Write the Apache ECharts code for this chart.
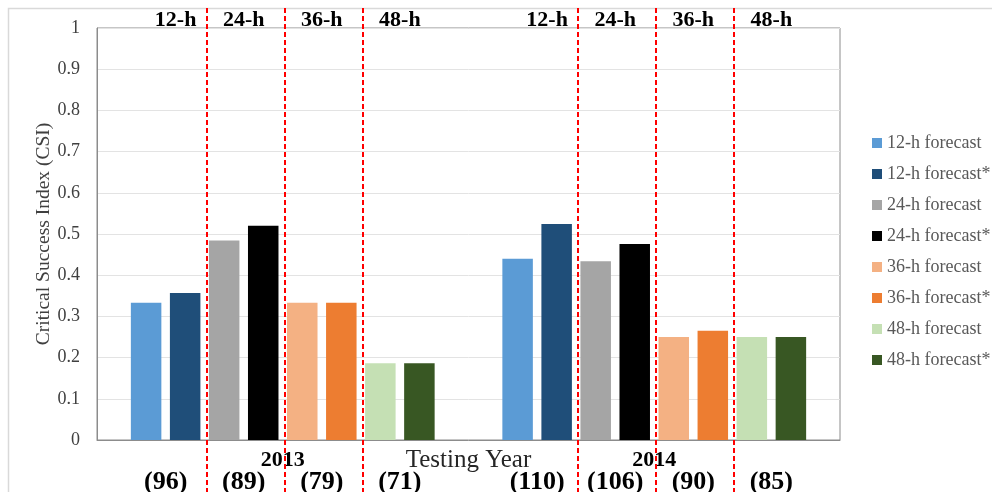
<!DOCTYPE html>
<html>
<head>
<meta charset="utf-8">
<script src="https://cdn.jsdelivr.net/npm/echarts@6/dist/echarts.min.js"></script>
<style>
  html, body { margin: 0; padding: 0; background: #ffffff; }
  #chart { width: 992px; height: 492px; }
</style>
</head>
<body>
<div id="chart"></div>
<script>
// Testing years on the category axis
const years = ['2013', '2014'];

// CSI per forecast horizon, one value per testing year
const csi12h     = [0.333, 0.440];
const csi12hStar = [0.357, 0.524];
const csi24h     = [0.484, 0.434];
const csi24hStar = [0.520, 0.476];
const csi36h     = [0.333, 0.250];
const csi36hStar = [0.333, 0.265];
const csi48h     = [0.186, 0.250];
const csi48hStar = [0.186, 0.250];

const seriesNames = [
  '12-h forecast', '12-h forecast*',
  '24-h forecast', '24-h forecast*',
  '36-h forecast', '36-h forecast*',
  '48-h forecast', '48-h forecast*'
];
const seriesValues = [csi12h, csi12hStar, csi24h, csi24hStar, csi36h, csi36hStar, csi48h, csi48hStar];

// Horizon headings and number of cases per horizon
const horizonLabels = ['12-h', '24-h', '36-h', '48-h'];
const caseCounts2013 = ['(96)', '(89)', '(79)', '(71)'];
const caseCounts2014 = ['(110)', '(106)', '(90)', '(85)'];
const caseCounts = [caseCounts2013, caseCounts2014];

// Y-axis tick labels
const yTicks = ['0', '0.1', '0.2', '0.3', '0.4', '0.5', '0.6', '0.7', '0.8', '0.9', '1'];

const palette = ['#5b9bd5', '#1f4e79', '#a5a5a5', '#000000', '#f4b183', '#ed7d31', '#c5e0b4', '#385723'];
const SERIF = '"Liberation Serif", "Times New Roman", serif';

const chart = echarts.init(document.getElementById('chart'), null, { renderer: 'canvas' });

const option = {
  backgroundColor: '#ffffff',
  animation: false,
  color: palette,
  grid: {
    left: 97, top: 28, right: 152, bottom: 52,
    containLabel: false,
    outerBoundsMode: 'none',
    show: true, borderColor: '#8c8c8c', borderWidth: 1, backgroundColor: 'transparent'
  },
  legend: {
    orient: 'vertical',
    left: 867, top: 129,
    itemWidth: 10, itemHeight: 10, itemGap: 13,
    icon: 'rect',
    data: seriesNames,
    textStyle: { fontFamily: SERIF, fontSize: 18, color: '#595959', lineHeight: 18 }
  },
  xAxis: {
    type: 'category',
    data: years,
    name: 'Testing Year',
    nameLocation: 'middle',
    nameGap: 8,
    nameMoveOverlap: false,
    nameTextStyle: { fontFamily: SERIF, fontSize: 25, color: '#262626' },
    axisLine: { show: true, lineStyle: { color: '#8c8c8c', width: 1 } },
    axisTick: { show: false },
    axisLabel: { margin: 9, fontFamily: SERIF, fontSize: 22, fontWeight: 'bold', color: '#000000' }
  },
  yAxis: {
    type: 'value',
    min: 0, max: 1, interval: 0.1,
    name: 'Critical Success Index (CSI)',
    nameLocation: 'middle',
    nameGap: 43,
    nameMoveOverlap: false,
    nameTextStyle: { fontFamily: SERIF, fontSize: 19.5, color: '#404040' },
    axisLine: { show: true, lineStyle: { color: '#8c8c8c', width: 1 } },
    axisTick: { show: false },
    axisLabel: {
      margin: 17, fontFamily: SERIF, fontSize: 18, color: '#404040',
      formatter: function (v) { return yTicks[Math.round(v * 10)]; }
    },
    splitLine: { show: true, lineStyle: { color: '#e3e3e3', width: 1 } }
  },
  series: seriesNames.map(function (name, i) {
    return {
      name: name,
      type: 'bar',
      data: seriesValues[i],
      barWidth: 30.5,
      barGap: '28%',
      itemStyle: { color: palette[i] }
    };
  })
};

chart.setOption(option);

// Annotations placed from the laid-out bars: horizon headings, case counts, dashed separators
function barLayout(seriesIndex, dataIndex) {
  return chart.getModel().getSeriesByIndex(seriesIndex).getData().getItemLayout(dataIndex);
}

const headingShift = [10, 0, 0, 0];
const graphics = [{
  type: 'rect',
  silent: true,
  z: -10,
  shape: { x: 8.5, y: 8.5, width: 1000, height: 500 },
  style: { fill: 'none', stroke: '#d9d9d9', lineWidth: 1.5 }
}];

for (let j = 0; j < years.length; j++) {
  for (let p = 0; p < horizonLabels.length; p++) {
    const a = barLayout(2 * p, j);
    const b = barLayout(2 * p + 1, j);
    const cx = (a.x + b.x + b.width) / 2;
    graphics.push({
      type: 'text', silent: true, z: 20,
      x: cx + headingShift[p], y: 20,
      style: {
        text: horizonLabels[p], fontFamily: SERIF, fontSize: 22, fontWeight: 'bold',
        fill: '#000000', align: 'center', verticalAlign: 'middle'
      }
    });
    graphics.push({
      type: 'text', silent: true, z: 20,
      x: cx, y: 482,
      style: {
        text: caseCounts[j][p], fontFamily: SERIF, fontSize: 26, fontWeight: 'bold',
        fill: '#000000', align: 'center', verticalAlign: 'middle'
      }
    });
    if (p < horizonLabels.length - 1) {
      const c = barLayout(2 * p + 2, j);
      const sx = Math.round((b.x + b.width + c.x) / 2 + 2);
      graphics.push({
        type: 'line', silent: true, z: 30,
        shape: { x1: sx, y1: 8, x2: sx, y2: 492 },
        style: { stroke: '#ff0000', lineWidth: 2, lineDash: [5, 3] }
      });
    }
  }
}

chart.setOption({ graphic: graphics });
</script>
</body>
</html>
